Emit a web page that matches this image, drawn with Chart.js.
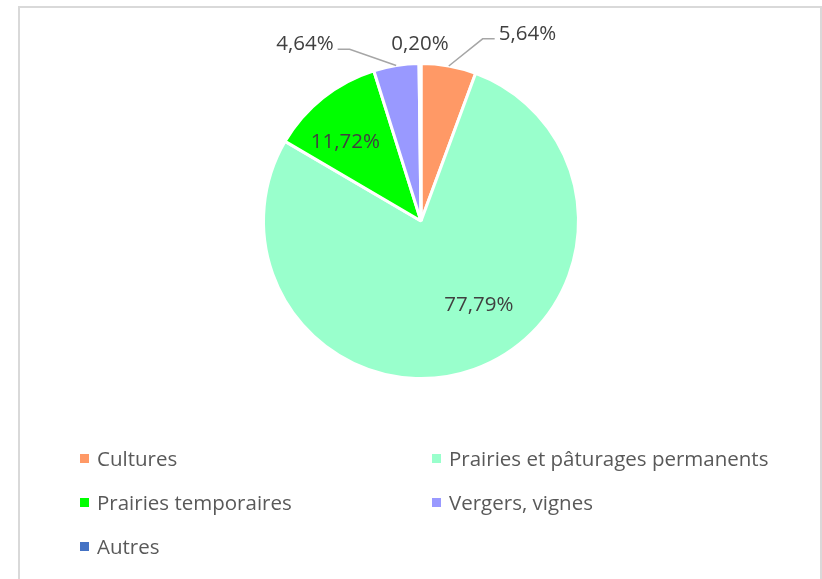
<!DOCTYPE html>
<html>
<head>
<meta charset="utf-8">
<script src="https://cdn.jsdelivr.net/npm/chart.js@4"></script>
<style>
  html, body { margin: 0; padding: 0; background: #fff; }
  #wrap { position: relative; width: 822px; height: 579px; overflow: hidden; }
  #frame { position: absolute; left: 18px; top: 6px; width: 804px; height: 600px; border: 2px solid #d9d9d9; border-bottom: none; box-sizing: border-box; }
  #chartBox { position: absolute; left: 0; top: 0; width: 822px; height: 420px; }
  #legend { position: absolute; left: 0; top: 0; width: 822px; height: 579px; font-family: "Open Sans", sans-serif; font-size: 20.5px; color: #595959; }
  .item { position: absolute; white-space: nowrap; line-height: 24px; }
  .item span.box { position: absolute; width: 9px; height: 9px; top: 8px; left: -17px; }
</style>
</head>
<body>
<div id="wrap">
  <div id="frame"></div>
  <div id="chartBox"><canvas id="pieChart" width="822" height="420"></canvas></div>
  <div id="legend"></div>
</div>
<script>
  const categories = ['Cultures', 'Prairies et pâturages permanents', 'Prairies temporaires', 'Vergers, vignes', 'Autres'];
  const shares = [5.64, 77.79, 11.72, 4.64, 0.20];
  const colors = ['#ff9966', '#99ffcc', '#00ff00', '#9999ff', '#4472c4'];

  // how each data label sits: inside the slice or outside with a leader line
  const labelStyle = [
    { outside: true, dist: 1.13, dx: 75, dy: -12, line: true },
    { outside: false, dist: 0.62, dx: 25, dy: -8 },
    { outside: false, dist: 0.7, dx: -7, dy: 7 },
    { outside: true, dist: 1.13, dx: -88, dy: -1, line: true },
    { outside: true, dist: 1.13, dx: 0, dy: 1, line: false }
  ];

  function fmt(v) {
    return v.toFixed(2).replace('.', ',') + '%';
  }

  const pieLabels = {
    id: 'pieLabels',
    afterDatasetsDraw(chart) {
      const c = chart.ctx;
      const meta = chart.getDatasetMeta(0);
      c.save();
      c.font = '20.5px "Open Sans", sans-serif';
      c.fillStyle = '#404040';
      c.textAlign = 'center';
      c.textBaseline = 'middle';
      meta.data.forEach((arc, i) => {
        const p = arc.getProps(['x', 'y', 'startAngle', 'endAngle', 'outerRadius'], true);
        const mid = (p.startAngle + p.endAngle) / 2;
        const st = labelStyle[i];
        const tx = p.x + Math.cos(mid) * p.outerRadius * st.dist + st.dx;
        const ty = p.y + Math.sin(mid) * p.outerRadius * st.dist + st.dy;
        const text = fmt(shares[i]);
        if (st.outside && st.line) {
          const w = c.measureText(text).width;
          const ex = p.x + Math.cos(mid) * p.outerRadius;
          const ey = p.y + Math.sin(mid) * p.outerRadius;
          const side = tx > ex ? -1 : 1;
          const hx = tx + side * (w / 2 + 4);
          const hy = ty + 5;
          const kx = hx + side * 12;
          c.strokeStyle = '#a6a6a6';
          c.lineWidth = 1.5;
          c.beginPath();
          c.moveTo(ex, ey);
          c.lineTo(kx, hy);
          c.lineTo(hx, hy);
          c.stroke();
        }
        c.fillText(text, tx, ty);
      });
      c.restore();
    }
  };

  const ctx = document.getElementById('pieChart').getContext('2d');
  new Chart(ctx, {
    type: 'pie',
    data: {
      labels: categories,
      datasets: [{
        data: shares,
        backgroundColor: colors,
        borderColor: '#ffffff',
        borderWidth: 3
      }]
    },
    options: {
      responsive: false,
      animation: false,
      layout: { padding: { top: 62, bottom: 40, left: 20, right: 0 } },
      plugins: {
        legend: { display: false },
        tooltip: { enabled: false }
      }
    },
    plugins: [pieLabels]
  });

  // legend in two columns, like the original
  const legend = document.getElementById('legend');
  const colX = [97, 449];
  const rowY = [446, 490, 534];
  categories.forEach((name, i) => {
    const d = document.createElement('div');
    d.className = 'item';
    d.style.left = colX[i % 2] + 'px';
    d.style.top = rowY[Math.floor(i / 2)] + 'px';
    const b = document.createElement('span');
    b.className = 'box';
    b.style.background = colors[i];
    d.appendChild(b);
    d.appendChild(document.createTextNode(name));
    legend.appendChild(d);
  });
</script>
</body>
</html>
